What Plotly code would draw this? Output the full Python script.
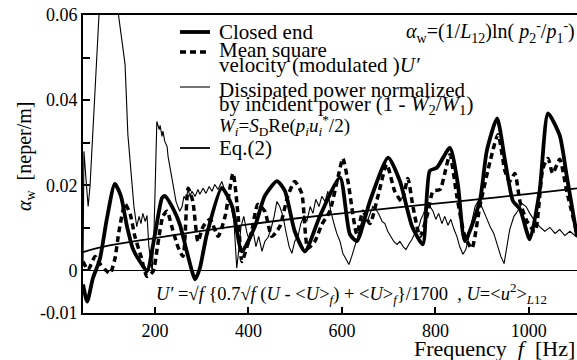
import plotly.graph_objects as go

# ---- data ----
closed_f = [46, 55, 67, 82, 97, 114, 127, 140, 153, 172, 183, 200, 215, 221, 238, 253, 268, 286, 296, 311,
            343, 365, 386, 414, 435, 461, 478, 499, 521, 553, 596, 617, 632, 660, 699, 724, 750, 773, 788, 803,
            831, 848, 863, 895, 910, 932, 949, 966, 981, 1002, 1023, 1041, 1066, 1081, 1103]
closed_v = [-0.0033, -0.0073, -0.0019, 0.0026, 0.0121, 0.0203, 0.0175, 0.0104, 0.005, 0.0014, -0.0002, 0.0085,
            0.017, 0.0175, 0.0147, 0.0109, 0.0045, -0.0021, 0.0005, 0.0085, 0.0194, 0.0151, 0.0045, 0.0104,
            0.0175, 0.021, 0.0187, 0.0092, 0.0045, 0.0128, 0.0218, 0.0085, 0.0069, 0.0163, 0.0265, 0.021,
            0.0104, 0.0061, 0.0234, 0.0241, 0.0288, 0.0203, 0.0069, 0.0163, 0.0281, 0.0357, 0.0258, 0.0163,
            0.0144, 0.0073, 0.0187, 0.0369, 0.0317, 0.0222, 0.008]

msv_f = [46, 57, 72, 82, 93, 104, 114, 123, 136, 147, 157, 170, 183, 196, 206, 217, 226, 236, 249, 260,
         271, 281, 292, 303, 318, 335, 350, 367, 378, 386, 397, 407, 420, 435, 450, 467, 484, 499, 514, 527,
         542, 557, 574, 592, 602, 613, 632, 645, 660, 677, 696, 713, 728, 741, 752, 767, 782, 795, 810, 820,
         831, 846, 863, 878, 895, 917, 934, 949, 959, 970, 981, 996, 1013, 1030, 1041, 1051, 1066, 1081, 1103]
msv_v = [0.0021, 0.0002, 0.0033, 0.0016, 0.0002, -0.0007, 0.0026, 0.0092, 0.0156, 0.0132, 0.008, 0.0033,
         -0.0014, -0.0002, 0.0061, 0.0127, 0.0139, 0.0103, 0.0056, 0.0033, 0.0193, 0.0162, 0.0068, 0.0103,
         0.012, 0.008, 0.0127, 0.0228, 0.0127, 0.0021, 0.0056, 0.0092, 0.0155, 0.0139, 0.008, 0.0103, 0.0174,
         0.0209, 0.0181, 0.0052, 0.0068, 0.0108, 0.0139, 0.0221, 0.0263, 0.0209, 0.0085, 0.0139, 0.011,
         0.0174, 0.0249, 0.0186, 0.0162, 0.0216, 0.015, 0.008, 0.0127, 0.0186, 0.019, 0.0228, 0.0272, 0.0174,
         0.008, 0.0052, 0.015, 0.0256, 0.0319, 0.0233, 0.0209, 0.0228, 0.0162, 0.0115, 0.0092, 0.024, 0.0263,
         0.0228, 0.0261, 0.0186, 0.0087]

diss_f = [46, 48, 52, 57, 61, 67, 74, 80, 84, 99, 114, 121, 130, 136, 142, 147, 151, 155, 161, 166, 170, 174,
          179, 183, 187, 191, 194, 198, 200, 204, 209, 211, 215, 217, 221, 226, 228, 232, 236, 241, 245, 249,
          253, 258, 262, 266, 271, 275, 279, 286, 292, 296, 303, 309, 316, 322, 328, 335, 343, 350, 356, 363,
          369, 373, 375, 380, 384, 390, 397, 403, 410, 416, 422, 429, 435, 442, 448, 455, 461, 467, 474, 480,
          487, 493, 499, 506, 512, 519, 525, 532, 538, 544, 551, 557, 564, 570, 576, 583, 589, 596, 602, 609,
          615, 621, 628, 634, 641, 647, 654, 660, 666, 673, 679, 686, 692, 698, 705, 711, 718, 724, 731, 737,
          743, 750, 756, 763, 769, 775, 782, 788, 795, 801, 807, 814, 820, 827, 833, 840, 846, 852, 859, 865,
          872, 878, 885, 891, 899, 908, 917, 925, 934, 940, 947, 953, 959, 968, 976, 985, 994, 1002, 1013,
          1023, 1034, 1045, 1056, 1066, 1077, 1088, 1103]
diss_v = [0.0009, 0.028, 0.0221, 0.015, 0.0197, 0.0327, 0.0467, 0.0585, 0.068, 0.0726, 0.068, 0.0608, 0.0538,
          0.0484, 0.0319, 0.0256, 0.0202, 0.015, 0.0103, 0.0127, 0.011, 0.0134, 0.0115, 0.0129, 0.0056, 0.0016,
          -0.0002, 0.0092, 0.0209, 0.035, 0.0331, 0.0341, 0.0315, 0.0327, 0.0303, 0.0291, 0.0268, 0.0244,
          0.0214, 0.019, 0.0162, 0.015, 0.0139, 0.015, 0.0174, 0.0167, 0.019, 0.0174, 0.0186, 0.0174, 0.019,
          0.0179, 0.0193, 0.0181, 0.0197, 0.0186, 0.0202, 0.019, 0.0209, 0.0186, 0.0169, 0.015, 0.0115, 0.0056,
          0.0005, 0.0056, 0.0103, 0.0127, 0.0087, 0.0068, 0.0092, 0.0056, 0.008, 0.0045, 0.0068, 0.0078, 0.0096,
          0.0127, 0.0162, 0.015, 0.0127, 0.0092, 0.0056, 0.004, 0.0068, 0.008, 0.011, 0.0129, 0.0115, 0.015,
          0.0134, 0.0167, 0.015, 0.0174, 0.0162, 0.0186, 0.0139, 0.011, 0.0087, 0.0068, 0.004, 0.0026, 0.0014,
          0.0033, 0.0056, 0.008, 0.011, 0.0127, 0.0115, 0.0134, 0.015, 0.0143, 0.0132, 0.0115, 0.011, 0.0092,
          0.008, 0.0068, 0.0061, 0.0068, 0.0056, 0.0049, 0.0061, 0.0073, 0.0087, 0.0096, 0.012, 0.0134, 0.0162,
          0.015, 0.0139, 0.012, 0.0134, 0.011, 0.0127, 0.0106, 0.012, 0.0096, 0.008, 0.0056, 0.0038, 0.0049,
          0.008, 0.0115, 0.015, 0.0162, 0.015, 0.0127, 0.0103, 0.0087, 0.0056, 0.0033, 0.0016, 0.0056, 0.0096,
          0.0127, 0.0139, 0.0157, 0.015, 0.0134, 0.0115, 0.0103, 0.0092, 0.0101, 0.0087, 0.0096, 0.0082,
          0.0092, 0.0078]

eq_f = [46, 100, 200, 300, 400, 500, 600, 700, 800, 900, 1000, 1103]
eq_v = [0.0043, 0.0058, 0.0076, 0.0093, 0.0108, 0.0122, 0.0134, 0.0146, 0.0157, 0.0168, 0.018, 0.0193]

x_ticks = [200, 400, 600, 800, 1000]
y_ticks = [-0.01, 0, 0.01, 0.02, 0.03, 0.04, 0.05, 0.06]
y_ticktext = ["-0.01", "0", "", "0.02", "", "0.04", "", "0.06"]

FONT = "Liberation Serif, Times New Roman, DejaVu Serif, serif"

fig = go.Figure()
fig.add_trace(go.Scatter(x=diss_f, y=diss_v, mode="lines", line=dict(color="black", width=1.1),
                         showlegend=False))
fig.add_trace(go.Scatter(x=eq_f, y=eq_v, mode="lines", line=dict(color="black", width=1.8, shape="spline"),
                         showlegend=False))
fig.add_trace(go.Scatter(x=msv_f, y=msv_v, mode="lines",
                         line=dict(color="black", width=3.5, dash="6px,4px", shape="spline", smoothing=0.6),
                         showlegend=False))
fig.add_trace(go.Scatter(x=closed_f, y=closed_v, mode="lines",
                         line=dict(color="black", width=3.8, shape="spline", smoothing=0.6),
                         showlegend=False))

L, T, PW, PH = 83, 15, 494, 298


def px(x):
    return (x - L) / PW


def py(y):
    return (T + PH - y) / PH


# legend samples
samples = [(32, 3.8, "solid"), (52, 3.5, "6px,4px"), (87, 1.1, "solid"), (148, 1.8, "solid")]
for yy, w, d in samples:
    fig.add_shape(type="line", xref="paper", yref="paper", x0=px(180), x1=px(210), y0=py(yy), y1=py(yy),
                  line=dict(color="black", width=w, dash=d))

legend_lines = [
    (32, "Closed end"),
    (50, "Mean square"),
    (65, "velocity (modulated )<i>U′</i>"),
    (90, "Dissipated power normalized"),
    (105, "by incident power (1 - <i>W</i><sub>2</sub>/<i>W</i><sub>1</sub>)"),
    (125, "<i>W<sub>i</sub></i>=<i>S</i><sub>D</sub>Re(<i>p<sub>i</sub>u<sub>i</sub></i><sup>*</sup>/2)"),
    (148, "Eq.(2)"),
]
annotations = []
for yy, txt in legend_lines:
    fs = 19 if yy == 125 else 21
    annotations.append(dict(x=px(217), y=py(yy), xref="paper", yref="paper", xanchor="left", yanchor="middle",
                            text=txt, showarrow=False, font=dict(family=FONT, size=fs, color="black")))

annotations.append(dict(x=1.0, y=py(32), xref="paper", yref="paper", xanchor="right", yanchor="middle",
                        text="<i>α</i><sub>w</sub>=(1/<i>L</i><sub>12</sub>)ln( <i>p</i><sub>2</sub><sup>-</sup>/<i>p</i><sub>1</sub><sup>-</sup>)",
                        showarrow=False, font=dict(family=FONT, size=20, color="black")))
annotations.append(dict(x=px(154), y=py(293), xref="paper", yref="paper", xanchor="left", yanchor="middle",
                        text="<i>U′</i> =√<i>f</i> {0.7√<i>f</i> (<i>U</i> - &lt;<i>U</i>&gt;<sub><i>f</i></sub>) + &lt;<i>U</i>&gt;<sub><i>f</i></sub>}/1700  , <i>U</i>=&lt;<i>u</i><sup>2</sup>&gt;<sub><i>L</i>12</sub>",
                        showarrow=False, font=dict(family=FONT, size=18.5, color="black")))
annotations.append(dict(x=1.0, y=py(348), xref="paper", yref="paper", xanchor="right", yanchor="middle",
                        text="Frequency  <i>f</i>  [Hz]", showarrow=False,
                        font=dict(family=FONT, size=22, color="black")))
annotations.append(dict(x=px(25), y=py(157), xref="paper", yref="paper", xanchor="center", yanchor="middle",
                        text="<i>α</i><sub>w</sub>  [neper/m]", textangle=-90, showarrow=False,
                        font=dict(family=FONT, size=20, color="black")))

fig.update_layout(
    width=577, height=360,
    margin=dict(l=L, r=0, t=T, b=360 - T - PH),
    paper_bgcolor="white", plot_bgcolor="white",
    font=dict(family=FONT, size=18, color="black"),
    annotations=annotations,
    xaxis=dict(range=[46, 1103], tickvals=x_ticks, ticks="inside", ticklen=6, tickwidth=1.5,
               tickcolor="black", showline=True, linewidth=2, linecolor="black", mirror=True,
               showgrid=False, zeroline=False, tickfont=dict(size=18)),
    yaxis=dict(range=[-0.01, 0.06], tickvals=y_ticks, ticktext=y_ticktext, ticks="inside", ticklen=7,
               tickwidth=1.5, tickcolor="black", showline=True, linewidth=2, linecolor="black",
               showgrid=False, zeroline=True, zerolinecolor="black", zerolinewidth=1.3,
               tickfont=dict(size=18)),
)

fig.write_html("out.html", config={"displayModeBar": False},
               post_script="document.body.style.margin='0';")
